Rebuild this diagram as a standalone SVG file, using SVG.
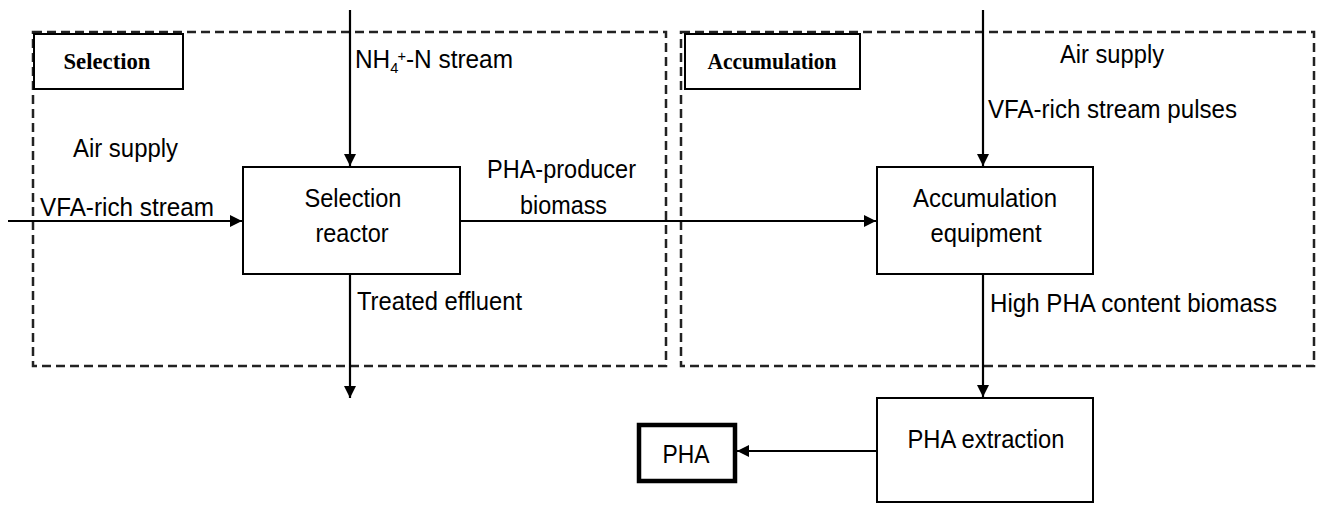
<svg xmlns="http://www.w3.org/2000/svg" width="1317" height="505" viewBox="0 0 1317 505">
<style>
.t{font-family:"Liberation Sans",Arial,sans-serif;font-size:25px;fill:#000}
.b{font-family:"Liberation Serif","Times New Roman",serif;font-size:23px;font-weight:bold;fill:#000}
.box{fill:#fff;stroke:#000;stroke-width:2}
.dash{fill:none;stroke:#222;stroke-width:2.5;stroke-dasharray:9 5}
.ln{fill:none;stroke:#000;stroke-width:2.2}
</style>
<defs>
<marker id="ah" markerWidth="12" markerHeight="12" refX="12" refY="6" orient="auto" markerUnits="userSpaceOnUse">
<path d="M0,0 L12,6 L0,12 Z" fill="#000"/>
</marker>
</defs>
<rect width="1317" height="505" fill="#fff"/>
<g id="selection-zone">
<rect class="dash" x="33" y="32" width="633" height="334"/>
<rect class="box" x="34" y="34" width="149" height="55"/>
<text class="b" x="107" y="69" text-anchor="middle" textLength="87" lengthAdjust="spacingAndGlyphs">Selection</text>
</g>
<g id="accumulation-zone">
<rect class="dash" x="681" y="32" width="633" height="334"/>
<rect class="box" x="685" y="34" width="175" height="55"/>
<text class="b" x="772" y="69" text-anchor="middle" textLength="129" lengthAdjust="spacingAndGlyphs">Accumulation</text>
</g>
<g id="connectors">
<line class="ln" x1="350" y1="10" x2="350" y2="166" marker-end="url(#ah)"/>
<line class="ln" x1="8" y1="221" x2="242" y2="221" marker-end="url(#ah)"/>
<line class="ln" x1="460" y1="221" x2="876" y2="221" marker-end="url(#ah)"/>
<line class="ln" x1="350" y1="274" x2="350" y2="398" marker-end="url(#ah)"/>
<line class="ln" x1="983" y1="10" x2="983" y2="166" marker-end="url(#ah)"/>
<line class="ln" x1="983" y1="274" x2="983" y2="397" marker-end="url(#ah)"/>
<line class="ln" x1="877" y1="451" x2="737" y2="451" marker-end="url(#ah)"/>
</g>
<g id="labels">
<text class="t" x="355" y="68" textLength="158" lengthAdjust="spacingAndGlyphs">NH<tspan font-size="15" dy="5">4</tspan><tspan font-size="15" dx="-1" dy="-12">+</tspan><tspan dy="7">-N stream</tspan></text>
<text class="t" x="73" y="157" textLength="105" lengthAdjust="spacingAndGlyphs">Air supply</text>
<text class="t" x="40" y="216" textLength="174" lengthAdjust="spacingAndGlyphs">VFA-rich stream</text>
<text class="t" x="487" y="178" textLength="149" lengthAdjust="spacingAndGlyphs">PHA-producer</text>
<text class="t" x="520" y="214" textLength="87" lengthAdjust="spacingAndGlyphs">biomass</text>
<text class="t" x="357" y="310" textLength="165" lengthAdjust="spacingAndGlyphs">Treated effluent</text>
<text class="t" x="1060" y="63" textLength="104" lengthAdjust="spacingAndGlyphs">Air supply</text>
<text class="t" x="988" y="118" textLength="249" lengthAdjust="spacingAndGlyphs">VFA-rich stream pulses</text>
<text class="t" x="990" y="312" textLength="287" lengthAdjust="spacingAndGlyphs">High PHA content biomass</text>
</g>
<g id="selection-reactor">
<rect class="box" x="243" y="167" width="217" height="107"/>
<text class="t" x="353" y="207" text-anchor="middle" textLength="97" lengthAdjust="spacingAndGlyphs">Selection</text>
<text class="t" x="352" y="242" text-anchor="middle" textLength="73" lengthAdjust="spacingAndGlyphs">reactor</text>
</g>
<g id="accumulation-equipment">
<rect class="box" x="877" y="167" width="216" height="107"/>
<text class="t" x="985" y="207" text-anchor="middle" textLength="144" lengthAdjust="spacingAndGlyphs">Accumulation</text>
<text class="t" x="986" y="242" text-anchor="middle" textLength="111" lengthAdjust="spacingAndGlyphs">equipment</text>
</g>
<g id="pha-extraction">
<rect class="box" x="877" y="398" width="216" height="104"/>
<text class="t" x="986" y="448" text-anchor="middle" textLength="157" lengthAdjust="spacingAndGlyphs">PHA extraction</text>
</g>
<g id="pha">
<rect x="639" y="425" width="96" height="56" fill="#fff" stroke="#000" stroke-width="4.5"/>
<text class="t" x="686" y="463" text-anchor="middle" textLength="47" lengthAdjust="spacingAndGlyphs">PHA</text>
</g>
</svg>
